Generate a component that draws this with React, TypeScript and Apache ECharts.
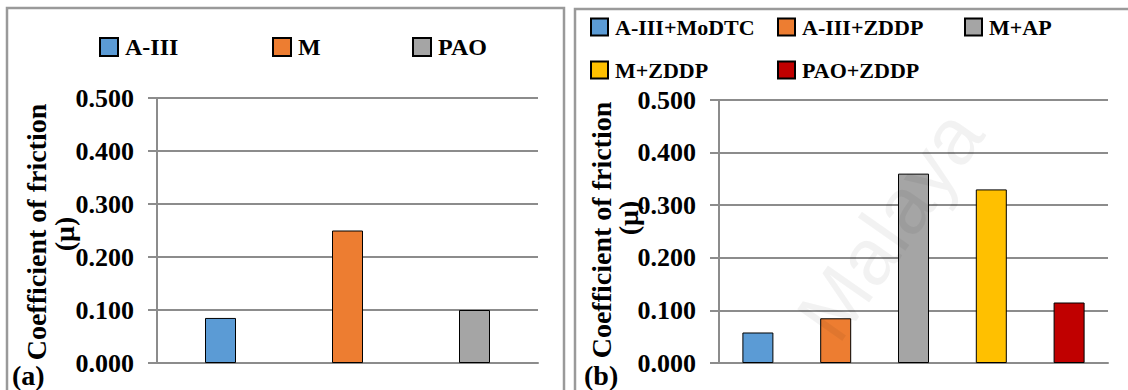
import React, { useEffect, useRef } from "react";
import * as echarts from "echarts";

// Panel (a): base oils
const baseOils = ["A-III", "M", "PAO"];
const baseOilCof = [0.085, 0.25, 0.1];
const baseOilColors = ["#5b9bd5", "#ed7d31", "#a5a5a5"];

// Panel (b): oil + additive blends
const blends = ["A-III+MoDTC", "A-III+ZDDP", "M+AP", "M+ZDDP", "PAO+ZDDP"];
const blendCof = [0.058, 0.085, 0.36, 0.33, 0.115];
const blendColors = ["#5b9bd5", "#ed7d31", "#a5a5a5", "#ffc000", "#c00000"];

// Shared value axis
const yMin = 0;
const yMax = 0.5;
const yStep = 0.1;

const axisTitle = "Coefficient of friction";
const axisUnit = "(μ)";

const FONT = "Liberation Serif";
const GRID_GRAY = "#8c8c8c";

export default function App() {
  const ref = useRef<HTMLDivElement>(null);

  useEffect(() => {
    if (!ref.current) return;
    const chart = echarts.init(ref.current, undefined, { renderer: "svg" });

    const valueAxis = (gridIndex: number) => ({
      type: "value",
      gridIndex,
      min: yMin,
      max: yMax,
      interval: yStep,
      axisLine: { show: true, lineStyle: { color: GRID_GRAY, width: 2 } },
      axisTick: { show: true, length: 9, lineStyle: { color: GRID_GRAY, width: 2 } },
      splitLine: { show: true, lineStyle: { color: GRID_GRAY, width: 2 } },
      axisLabel: {
        margin: 23,
        color: "#000",
        fontFamily: FONT,
        fontWeight: "bold",
        fontSize: 26,
        formatter: (v: number) => v.toFixed(3),
      },
    });

    const catAxis = (gridIndex: number, data: string[]) => ({
      type: "category",
      gridIndex,
      data,
      axisLine: { show: true, lineStyle: { color: GRID_GRAY, width: 2 } },
      axisTick: { show: false },
      axisLabel: { show: false },
    });

    const makeSeries = (
      names: string[],
      values: number[],
      colors: string[],
      axisIndex: number,
      width: number
    ) =>
      names.map((name, i) => ({
        type: "bar",
        name,
        xAxisIndex: axisIndex,
        yAxisIndex: axisIndex,
        stack: "panel" + axisIndex,
        barWidth: width,
        data: values.map((v, j) => (j === i ? v : "-")),
        itemStyle: { color: colors[i], borderColor: "#000", borderWidth: 1 },
      }));

    const legendItem = (
      name: string,
      left: number,
      top: number,
      size: number,
      fontSize: number
    ) => ({
      data: [name],
      left,
      top,
      orient: "horizontal",
      itemWidth: size,
      itemHeight: size,
      itemGap: 0,
      padding: 0,
      icon: "rect",
      selectedMode: false,
      textStyle: {
        color: "#000",
        fontFamily: FONT,
        fontWeight: "bold",
        fontSize,
        lineHeight: 24,
        padding: [0, 0, 0, 2],
      },
    });

    const labelStyle = (text: string, align: string, fontSize: number) => ({
      text,
      fill: "#000",
      fontFamily: FONT,
      fontWeight: "bold",
      fontSize,
      align,
      verticalAlign: "middle",
    });

    const titleText = (x: number, y: number, text: string) => ({
      type: "text",
      x,
      y,
      rotation: Math.PI / 2,
      style: labelStyle(text, "center", 28),
    });

    const option = {
      animation: false,
      backgroundColor: "#fff",
      textStyle: { fontFamily: FONT },
      grid: [
        { left: 157, right: 1128 - 538, top: 98, bottom: 390 - 363 },
        { left: 719, right: 1128 - 1108, top: 100, bottom: 390 - 363 },
      ],
      xAxis: [catAxis(0, baseOils), catAxis(1, blends)],
      yAxis: [valueAxis(0), valueAxis(1)],
      legend: [
        legendItem(baseOils[0], 99, 35, 18, 24),
        legendItem(baseOils[1], 272, 35, 18, 24),
        legendItem(baseOils[2], 412, 35, 18, 24),
        legendItem(blends[0], 590, 15, 17, 22),
        legendItem(blends[1], 777, 15, 17, 22),
        legendItem(blends[2], 964, 15, 17, 22),
        legendItem(blends[3], 590, 58, 17, 22),
        legendItem(blends[4], 777, 58, 17, 22),
      ],
      series: [
        ...makeSeries(baseOils, baseOilCof, baseOilColors, 0, 31),
        ...makeSeries(blends, blendCof, blendColors, 1, 31),
      ],
      graphic: [
        {
          type: "rect",
          shape: { x: 7, y: 8, width: 557, height: 420 },
          style: { fill: "none", stroke: "#9a9a9a", lineWidth: 2.5 },
          z: 0,
        },
        {
          type: "rect",
          shape: { x: 575, y: 9, width: 600, height: 420 },
          style: { fill: "none", stroke: "#9a9a9a", lineWidth: 2.5 },
          z: 0,
        },
        titleText(36, 232, axisTitle),
        titleText(64, 234, axisUnit),
        titleText(601, 230, axisTitle),
        titleText(628, 218, axisUnit),
        { type: "text", x: 12, y: 375, style: labelStyle("(a)", "left", 28) },
        { type: "text", x: 584, y: 375, style: labelStyle("(b)", "left", 28) },
        {
          type: "text",
          x: 890,
          y: 225,
          rotation: (55 * Math.PI) / 180,
          z: 100,
          silent: true,
          style: {
            text: "Malaya",
            fill: "rgba(0,0,0,0.05)",
            fontFamily: "Liberation Sans",
            fontSize: 80,
            align: "center",
            verticalAlign: "middle",
          },
        },
      ],
    };

    chart.setOption(option as any);
    return () => chart.dispose();
  }, []);

  return (
    <div
      ref={ref}
      style={{ position: "absolute", left: 0, top: 0, width: 1128, height: 390 }}
    />
  );
}
